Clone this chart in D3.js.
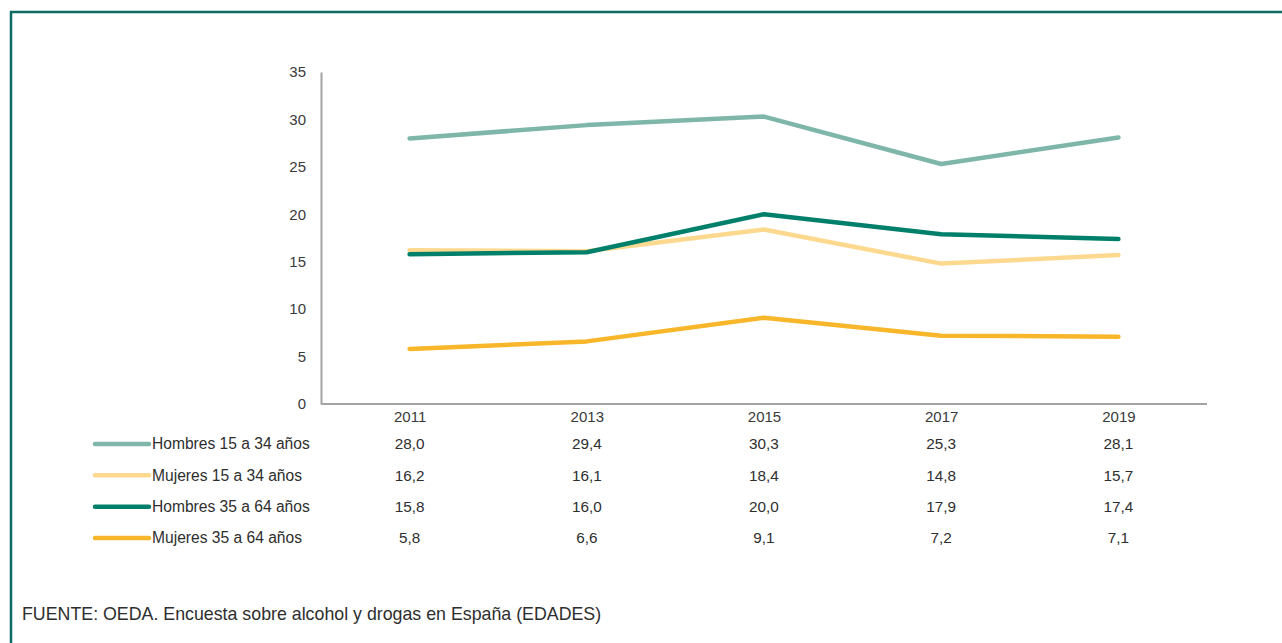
<!DOCTYPE html>
<html>
<head>
<meta charset="utf-8">
<script src="https://cdn.jsdelivr.net/npm/d3@7"></script>
<style>
  html, body { margin: 0; padding: 0; background: #fff; }
  svg { display: block; font-family: "Liberation Sans", Arial, sans-serif; }
</style>
</head>
<body>
<svg id="chart" width="1282" height="643"></svg>
<script>
const years = ["2011", "2013", "2015", "2017", "2019"];
const seriesNames = [
  "Hombres 15 a 34 años",
  "Mujeres 15 a 34 años",
  "Hombres 35 a 64 años",
  "Mujeres 35 a 64 años"
];
const hombres15a34 = [28.0, 29.4, 30.3, 25.3, 28.1];
const mujeres15a34 = [16.2, 16.1, 18.4, 14.8, 15.7];
const hombres35a64 = [15.8, 16.0, 20.0, 17.9, 17.4];
const mujeres35a64 = [5.8, 6.6, 9.1, 7.2, 7.1];
const yTicks = [0, 5, 10, 15, 20, 25, 30, 35];
const colors = ["#7fb6aa", "#fdd98f", "#00806b", "#f8b62a"];
const sourceNote = "FUENTE: OEDA. Encuesta sobre alcohol y drogas en España (EDADES)";

const series = [hombres15a34, mujeres15a34, hombres35a64, mujeres35a64];

const svg = d3.select("#chart");

// frame: top and left rule
svg.append("path")
  .attr("d", "M11,643 V12 H1282")
  .attr("fill", "none")
  .attr("stroke", "#0d6b63")
  .attr("stroke-width", 2.5);

const plotLeft = 321, plotRight = 1207, plotTop = 72, plotBottom = 404;

const x = d3.scalePoint().domain(years).range([plotLeft, plotRight]).padding(0.5);
const y = d3.scaleLinear().domain([0, 35]).range([plotBottom, plotTop]);

const fmt = v => v.toFixed(1).replace(".", ",");

// y axis
const yAxis = svg.append("g")
  .attr("transform", `translate(${plotLeft},0)`)
  .call(d3.axisLeft(y).tickValues(yTicks).tickSize(0).tickPadding(15));
yAxis.select(".domain").attr("stroke", "#a3a3a3").attr("stroke-width", 2);
yAxis.selectAll("text").attr("font-size", 15).attr("fill", "#3a3a3a")
  .attr("font-family", "Liberation Sans, Arial, sans-serif");

// x axis
const xAxis = svg.append("g")
  .attr("transform", `translate(0,${plotBottom})`)
  .call(d3.axisBottom(x).tickSize(0).tickPadding(7));
xAxis.select(".domain").attr("d", `M${plotLeft},0H${plotRight}`)
  .attr("stroke", "#a3a3a3").attr("stroke-width", 2);
xAxis.selectAll("text").attr("font-size", 15).attr("fill", "#3a3a3a")
  .attr("font-family", "Liberation Sans, Arial, sans-serif");

// lines
const line = d3.line()
  .x((d, i) => x(years[i]))
  .y(d => y(d));

svg.append("g").selectAll("path")
  .data(series)
  .join("path")
  .attr("d", line)
  .attr("fill", "none")
  .attr("stroke", (d, i) => colors[i])
  .attr("stroke-width", 4.5)
  .attr("stroke-linejoin", "round")
  .attr("stroke-linecap", "round");

// data table with legend keys
const rowY = d3.scalePoint().domain(seriesNames).range([444, 538]);

const rows = svg.append("g").selectAll("g")
  .data(seriesNames)
  .join("g")
  .attr("transform", d => `translate(0,${rowY(d)})`);

rows.append("line")
  .attr("x1", 95).attr("x2", 149)
  .attr("stroke", (d, i) => colors[i])
  .attr("stroke-width", 4.5)
  .attr("stroke-linecap", "round");

rows.append("text")
  .attr("x", 152)
  .attr("dy", "0.35em")
  .attr("font-size", 15.6)
  .attr("fill", "#2e2e2e")
  .text(d => d);

rows.each(function(name, i) {
  d3.select(this).selectAll("text.val")
    .data(series[i])
    .join("text")
    .attr("class", "val")
    .attr("x", (v, j) => x(years[j]))
    .attr("dy", "0.35em")
    .attr("text-anchor", "middle")
    .attr("font-size", 15.3)
    .attr("fill", "#2e2e2e")
    .text(fmt);
});

svg.append("text")
  .attr("x", 22)
  .attr("y", 614)
  .attr("dy", "0.35em")
  .attr("font-size", 17.8)
  .attr("fill", "#2e2e2e")
  .text(sourceNote);
</script>
</body>
</html>
